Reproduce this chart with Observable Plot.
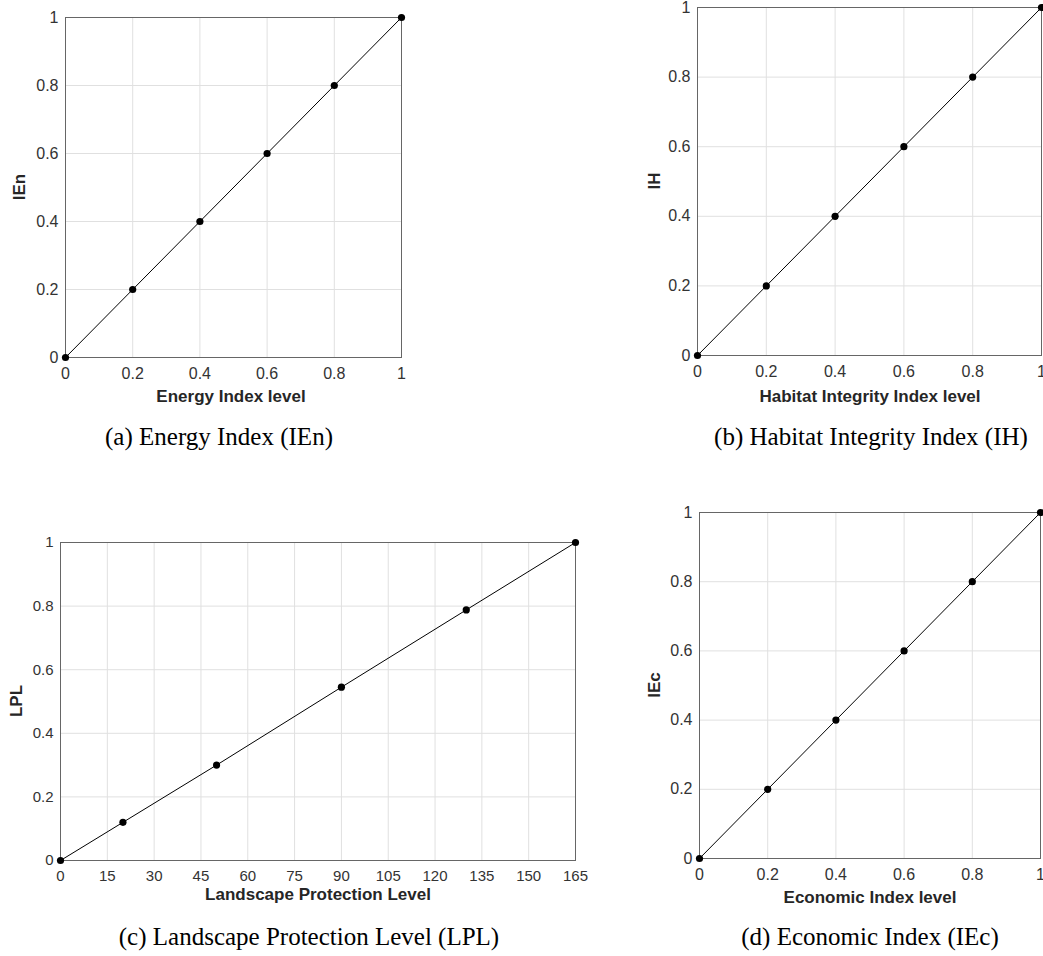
<!DOCTYPE html>
<html>
<head>
<meta charset="utf-8">
<script src="https://cdn.jsdelivr.net/npm/d3@7"></script>
<script src="https://cdn.jsdelivr.net/npm/@observablehq/plot@0.6"></script>
<style>
  html, body { margin: 0; padding: 0; background: #fff; overflow: hidden; }
  #root { position: relative; width: 1043px; height: 956px; }
  .pl { position: absolute; }
  .ax { position: absolute; font-family: Arial, "Liberation Sans", sans-serif; font-weight: bold; color: #262626; white-space: nowrap; transform: translate(-50%, -50%); }
  .ay { position: absolute; font-family: Arial, "Liberation Sans", sans-serif; font-weight: bold; color: #262626; white-space: nowrap; transform: translate(-50%, -50%) rotate(-90deg); }
  .cap { position: absolute; font-family: "Liberation Serif", "Times New Roman", serif; color: #000; white-space: nowrap; transform: translate(-50%, -50%); }
</style>
</head>
<body>
<div id="root"></div>
<script>
// ---- data ----
const unitTicks = [0, 0.2, 0.4, 0.6, 0.8, 1];
const lplTicks = [0, 15, 30, 45, 60, 75, 90, 105, 120, 135, 150, 165];

const ienLevel = [0, 0.2, 0.4, 0.6, 0.8, 1];
const ienValue = [0, 0.2, 0.4, 0.6, 0.8, 1];

const ihLevel = [0, 0.2, 0.4, 0.6, 0.8, 1];
const ihValue = [0, 0.2, 0.4, 0.6, 0.8, 1];

const lplLevel = [0, 20, 50, 90, 130, 165];
const lplValue = [0, 0.12, 0.30, 0.545, 0.788, 1];

const iecLevel = [0, 0.2, 0.4, 0.6, 0.8, 1];
const iecValue = [0, 0.2, 0.4, 0.6, 0.8, 1];

const panels = [
  { xs: ienLevel, ys: ienValue, xTicks: unitTicks, xDomain: [0, 1],
    xTitle: "Energy Index level", yTitle: "IEn", caption: "(a) Energy Index (IEn)",
    left: 0, top: 0, width: 420, height: 415, mL: 65, mR: 19, mT: 17, mB: 58, fs: 16,
    xt: [231, 397], yt: [20, 187], cap: [219, 437] },
  { xs: ihLevel, ys: ihValue, xTicks: unitTicks, xDomain: [0, 1],
    xTitle: "Habitat Integrity Index level", yTitle: "IH", caption: "(b) Habitat Integrity Index (IH)",
    left: 640, top: 0, width: 403, height: 415, mL: 57, mR: 2, mT: 7, mB: 60, fs: 16,
    xt: [870, 397], yt: [655, 181], cap: [871, 437] },
  { xs: lplLevel, ys: lplValue, xTicks: lplTicks, xDomain: [0, 165],
    xTitle: "Landscape Protection Level", yTitle: "LPL", caption: "(c) Landscape Protection Level (LPL)",
    left: 0, top: 490, width: 600, height: 420, mL: 60, mR: 25, mT: 52, mB: 50, fs: 15,
    xt: [318, 895], yt: [17, 701], cap: [309, 937] },
  { xs: iecLevel, ys: iecValue, xTicks: unitTicks, xDomain: [0, 1],
    xTitle: "Economic Index level", yTitle: "IEc", caption: "(d) Economic Index (IEc)",
    left: 640, top: 490, width: 403, height: 420, mL: 59, mR: 3, mT: 22, mB: 52, fs: 16,
    xt: [870, 898], yt: [655, 685], cap: [870, 937] }
];

const root = document.getElementById("root");

for (const p of panels) {
  const data = p.xs.map((x, i) => ({ x, y: p.ys[i] }));
  const fmt = d => String(d);
  const svg = Plot.plot({
    width: p.width,
    height: p.height,
    marginLeft: p.mL, marginRight: p.mR, marginTop: p.mT, marginBottom: p.mB,
    x: { domain: p.xDomain, type: "linear" },
    y: { domain: [0, 1], type: "linear" },
    style: { fontFamily: "Arial, 'Liberation Sans', sans-serif", fontSize: p.fs + "px", color: "#333", background: "transparent", overflow: "visible" },
    marks: [
      Plot.gridX(p.xTicks, { stroke: "#e0e0e0", strokeOpacity: 1 }),
      Plot.gridY(unitTicks, { stroke: "#e0e0e0", strokeOpacity: 1 }),
      Plot.frame({ stroke: "#666" }),
      Plot.axisX({ ticks: p.xTicks, tickFormat: fmt, tickSize: 0, tickPadding: 10, label: null, fill: "#333", fontSize: p.fs }),
      Plot.axisY({ ticks: unitTicks, tickFormat: fmt, tickSize: 0, tickPadding: 7, label: null, fill: "#333", fontSize: p.fs }),
      Plot.line(data, { x: "x", y: "y", stroke: "#000", strokeWidth: 1 }),
      Plot.dot(data, { x: "x", y: "y", r: 3.6, fill: "#000", stroke: "none" })
    ]
  });
  svg.classList.add("pl");
  svg.style.left = p.left + "px";
  svg.style.top = p.top + "px";
  root.appendChild(svg);

  const xt = document.createElement("div");
  xt.className = "ax"; xt.textContent = p.xTitle;
  xt.style.left = p.xt[0] + "px"; xt.style.top = p.xt[1] + "px"; xt.style.fontSize = "17px";
  root.appendChild(xt);

  const yt = document.createElement("div");
  yt.className = "ay"; yt.textContent = p.yTitle;
  yt.style.left = p.yt[0] + "px"; yt.style.top = p.yt[1] + "px"; yt.style.fontSize = "17px";
  root.appendChild(yt);

  const cap = document.createElement("div");
  cap.className = "cap"; cap.textContent = p.caption;
  cap.style.left = p.cap[0] + "px"; cap.style.top = p.cap[1] + "px"; cap.style.fontSize = "25px";
  root.appendChild(cap);
}
</script>
</body>
</html>
